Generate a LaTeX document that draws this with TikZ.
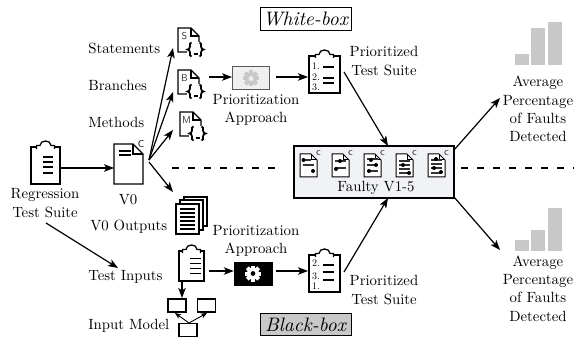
\documentclass[tikz,border=0pt]{standalone}
\usepackage{fontspec}
\usetikzlibrary{arrows.meta}
\tikzset{
  arr/.style={line width=1.2pt,-{Stealth[length=10pt,width=7.5pt,inset=2.5pt]}},
  smallarr/.style={line width=0.9pt,-{Stealth[length=6pt,width=5pt,inset=1.5pt]}},
  lbl/.style={inner sep=0pt,scale=1.48,font=\fontsize{10}{12.4}\selectfont,align=center},
  lblw/.style={lbl,anchor=west},
  spot/.style={inner sep=0pt,outer sep=0pt,minimum width=#1},
  icon/.style={line width=1.3pt,line join=miter},
  tag/.style={inner sep=0pt,font=\fontsize{10}{10}\selectfont\sffamily},
  modelbox/.style={draw,line width=1.2pt,inner sep=0pt,minimum width=18pt,minimum height=13pt},
  bar/.style={fill=barcol,draw=none},
  legend/.style={draw,line width=0.9pt,inner sep=0pt,scale=1.95,minimum width=46.7pt,minimum height=11.5pt,font=\fontsize{10}{12}\selectfont\itshape},
  pribox/.style={draw,inner sep=0pt,minimum width=37pt,minimum height=23pt},
  num/.style={inner sep=0pt,font=\fontsize{10}{10}\selectfont},
}
\definecolor{barcol}{HTML}{C8C8C8}
\definecolor{panel}{HTML}{F0F2F5}
\newcommand{\gear}[3]{% x y colour
  \begin{scope}[shift={(#1,#2)}]
    \foreach \a in {0,45,...,315}{\fill[#3,rotate=\a] (-2,-8) rectangle (2,0);}
    \fill[#3] (0,0) circle (6);
  \end{scope}}
\newcommand{\docshape}[5]{% x y w h fold
  \begin{scope}[shift={(#1,#2)}]
    \draw[icon,fill=white] (0,0) -- (#3-#5,0) -- (#3,#5) -- (#3,#4) -- (0,#4) -- cycle;
    \draw[icon] (#3-#5,0) -- (#3-#5,#5) -- (#3,#5);
  \end{scope}}
\newcommand{\codedoc}[3]{% x y letter
  \docshape{#1}{#2}{21}{24}{8}
  \fill[white] (#1+9,#2+14) rectangle (#1+27,#2+30);
  \node[tag,text=black!80] (tag#3) at (#1+6.5,#2+8.5) {#3};
  \begin{scope}[shift={(#1+17.5,#2+21.5)},line width=1.8pt]
    \foreach \s in {1,-1}{
      \draw[xscale=\s] (-4,-7) .. controls (-6,-7) and (-5.5,-5) .. (-5.5,-3) .. controls (-5.5,-1) and (-7,0) .. (-8,0) .. controls (-7,0) and (-5.5,1) .. (-5.5,3) .. controls (-5.5,5) and (-6,7) .. (-4,7);}
    \draw (-2,4.5) -- (2,4.5);
  \end{scope}
}
\newcommand{\clipboard}[5]{% x y w h body
  \begin{scope}[shift={(#1,#2)}]
    \draw[icon,fill=white] (0,7) rectangle (#3,#4);
    \draw[icon,fill=white] (#3/2-9,9) -- (#3/2-9,5.5) -- (#3/2-5.5,5.5) .. controls (#3/2-5.5,-0.5) and (#3/2+5.5,-0.5) .. (#3/2+5.5,5.5) -- (#3/2+9,5.5) -- (#3/2+9,9);
    #5
  \end{scope}}
\newcommand{\faultdoc}[2]{% x, body
  \begin{scope}[shift={(#1,153)}]
    \draw[line width=1pt,fill=white] (0,1) -- (11,1) -- (17,7) -- (17,24) -- (0,24) -- cycle;
    \draw[line width=1pt] (11,1) -- (11,7) -- (17,7);
    \node[inner sep=0pt,font=\fontsize{7}{7}\selectfont\sffamily] at (18.5,0.5) {C};
    #2
  \end{scope}}
\newcommand{\fl}[3]{\draw[line width=1.1pt,black!80] (#1,#3) -- (#2,#3);}
\newcommand{\fd}[2]{\fill (#1,#2) circle (2);}
\begin{document}
\begin{tikzpicture}[x=1pt,y=-1pt]
\useasboundingbox (0,0) rectangle (574,337);

% dashed rule
\coordinate (dashA) at (172,168);
\coordinate (dashB) at (284,168);
\coordinate (dashC) at (461,168);
\coordinate (dashD) at (574,168);
\draw[line width=1.2pt,dash pattern=on 6.5pt off 9.5pt] (dashA) -- (dashB);
\draw[line width=1.2pt,dash pattern=on 6.5pt off 9.5pt] (dashC) -- (dashD);

% legends
\node[legend] (white) at (305.5,19) {White-box};
\node[legend,fill=barcol] (black) at (305.5,324.5) {Black-box};

% regression suite
\clipboard{31}{140}{29}{44}{
  \foreach \y in {17,22,27,33}{\draw[line width=1.1pt] (12,\y) -- (22,\y);}}
\node[spot=30pt,minimum height=44pt] (suite) at (46,162) {};
\node[lbl] (suitetxt) at (45,203) {Regression\\Test Suite};

% V0
\docshape{114}{144}{29}{40}{10}
\draw[line width=1.1pt] (119,151) -- (131,151) (119,155) -- (131,155);
\node[tag] (vc) at (141,144) {C};
\node[spot=29pt,minimum height=40pt] (v0) at (128.5,164) {};
\node[lbl] (v0txt) at (128,200) {V0};

% code icons
\codedoc{178}{28}{S}
\codedoc{178}{70}{B}
\codedoc{180}{112}{M}
\node[lblw] (stmt) at (88,48) {Statements};
\node[lblw] (bran) at (88,85) {Branches};
\node[lblw] (meth) at (88,122) {Methods};
\coordinate (v0n) at (149,160);
\coordinate (v0s) at (149,162);
\coordinate (sIn) at (173,48);
\coordinate (bIn) at (173,92);
\coordinate (mIn) at (173,130);
\coordinate (oIn) at (173,192);

% outputs stack
\begin{scope}
  \draw[icon,fill=white] (184,197) rectangle (207,226);
  \draw[icon,fill=white] (180,200) rectangle (203,230);
  \draw[icon,fill=white] (176,204) rectangle (199,234);
  \foreach \y in {209,213,217,221,225,229}{\draw[line width=1.1pt] (180,\y) -- (195,\y);}
\end{scope}
\node[spot=32pt,minimum height=38pt] (out) at (192,216) {};
\node[lblw] (outtxt) at (90,227) {V0 Outputs};

% test inputs
\clipboard{179}{244}{25}{37}{
  \foreach \y in {14,19,24,29}{\draw[line width=1pt] (11,\y) -- (22,\y);}}
\node[spot=25pt,minimum height=37pt] (inputs) at (191.5,263) {};
\node[lblw] (intxt) at (88,277) {Test Inputs};

% input model
\node[modelbox] (m1) at (177,305.5) {};
\node[modelbox] (m2) at (206.5,305.5) {};
\node[modelbox] (m3) at (188,330) {};
\node[lblw] (mtxt) at (88,326) {Input Model};

% prioritisation approach
\node[pribox,fill=white!94!black,draw=black!65,line width=0.9pt] (pw) at (251,78) {};
\gear{251}{78.5}{barcol}
\fill[white!94!black] (251,78.5) circle (2.4);
\node[lbl] (pwt) at (256,110) {Prioritization\\Approach};
\node[pribox,minimum width=38pt,fill=black] (pb) at (253,273.5) {};
\gear{253}{273.5}{white}
\fill[black] (253,273.5) circle (2.4);
\node[lbl] (pbt) at (256,241) {Prioritization\\Approach};

% prioritised suites
\clipboard{309}{49}{31}{44}{
  \node[num] at (7,17) {1.};
  \node[num] at (7,28) {2.};
  \node[num] at (7,38) {3.};
  \foreach \y in {18,29,34}{\draw[line width=1.3pt] (14,\y) -- (25,\y);}}
\node[spot=31pt,minimum height=46pt] (ps1) at (324.5,72) {};
\node[lbl] (ps1t) at (384,61) {Prioritized\\Test Suite};
\clipboard{309}{248}{31}{44}{
  \node[num] at (7,15) {2.};
  \node[num] at (7,28) {3.};
  \node[num] at (7,38) {1.};
  \foreach \y in {17,24,32}{\draw[line width=1.3pt] (14,\y) -- (25,\y);}}
\node[spot=31pt,minimum height=45pt] (ps2) at (324.5,271) {};
\node[lbl] (ps2t) at (384,290) {Prioritized\\Test Suite};

% faulty versions
\node[draw,line width=1.3pt,fill=panel,inner sep=0pt,minimum width=160pt,minimum height=52pt] (faulty) at (374,172) {};
\faultdoc{300}{\fl{3}{11}{7}\fd{3.5}{7}\fl{3}{14}{12}\fd{13}{18}}
\faultdoc{332}{\fl{3}{14}{8}\fd{8}{8}\fl{3}{14}{15}\fd{4}{16}}
\faultdoc{364}{\fl{3}{14}{6}\fd{7}{7}\fl{3}{14}{12}\fd{12}{12}\fl{3}{14}{18}\fd{5}{18}}
\faultdoc{396}{\fl{3}{14}{8}\fl{3}{14}{12}\fd{7}{12}\fl{3}{14}{16}\fl{3}{14}{20}\fd{13}{20}}
\faultdoc{428}{\fl{3}{14}{7}\fd{8}{6}\fl{3}{14}{11}\fl{3}{14}{15}\fd{6}{15}\fl{3}{14}{20}\fd{13}{19}}
\node[lbl] (ftxt) at (376,188) {Faulty V1-5};

% charts
\fill[bar] (515,54) rectangle (529,65);
\fill[bar] (531,28) rectangle (545,65);
\fill[bar] (548,22) rectangle (562,65);
\node[spot=47pt,minimum height=43pt] (c1) at (538,43.5) {};
\node[lbl] (c1t) at (538,109) {Average\\Percentage\\of Faults\\Detected};
\fill[bar] (515,240) rectangle (529,251);
\fill[bar] (531,230) rectangle (545,251);
\fill[bar] (548,208) rectangle (562,251);
\node[spot=47pt,minimum height=43pt] (c2) at (538,229.5) {};
\node[lbl] (c2t) at (538,288.5) {Average\\Percentage\\of Faults\\Detected};

% connectors
\draw[arr] (suite.east |- v0.west) ++(0,4) -- (114,168);
\draw[arr] (v0n) -- (sIn);
\draw[arr] (v0n) -- (bIn);
\draw[arr] (v0n) -- (mIn);
\draw[arr] (v0s) -- (oIn);
\coordinate (suiteEnd) at (46,223);
\coordinate (inEnd) at (118,268);
\draw[arr] (suiteEnd) -- (inEnd);
\coordinate (braceR) at (209,77);
\draw[arr] (braceR) -- (pw.west |- braceR);
\coordinate (pwR) at (276,77);
\coordinate (ps1L) at (308,77);
\draw[arr] (pwR) -- (ps1L);
\coordinate (inR) at (209,271);
\draw[arr] (inR) -- (pb.west |- inR);
\coordinate (pbR) at (276,271);
\coordinate (ps2L) at (308,271);
\draw[arr] (pbR) -- (ps2L);
\coordinate (ps1o) at (344,72);
\coordinate (ps2o) at (344,272);
\coordinate (fTop) at (388,146);
\coordinate (fBot) at (388,198);
\draw[arr] (ps1o) -- (fTop);
\draw[arr] (ps2o) -- (fBot);
\coordinate (fNE) at (454,150);
\coordinate (fSE) at (454,197);
\coordinate (c1In) at (500,98);
\coordinate (c2In) at (500,250);
\draw[arr] (fNE) -- (c1In);
\draw[arr] (fSE) -- (c2In);
\coordinate (inS) at (182,282);
\coordinate (m1N) at (182,298);
\draw[arr] (inS) -- (m1N);
\coordinate (m3N) at (189,323);
\draw[smallarr] (m3N) -- (175,313);
\draw[smallarr] (m3N) -- (207,313);
\end{tikzpicture}
\end{document}
